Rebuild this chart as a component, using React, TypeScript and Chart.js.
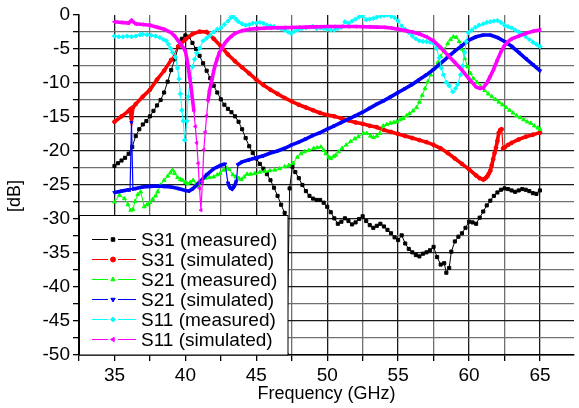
import { useEffect, useRef } from 'react';
import { Chart, registerables } from 'chart.js';
import { drawPoint } from 'chart.js/helpers';

Chart.register(...registerables);

// ---- S31 (measured) ----
const S31_MEAS_F = [
  35.0, 35.25, 35.5, 35.75, 36.0, 36.25, 36.5, 36.75, 37.0, 37.25, 37.5, 37.75, 38.0, 38.25, 38.5, 38.75,
  39.0, 39.25, 39.5, 39.75, 40.0, 40.25, 40.5, 40.75, 41.0, 41.25, 41.5, 41.75, 42.0, 42.25, 42.5, 42.75,
  43.0, 43.25, 43.5, 43.75, 44.0, 44.25, 44.5, 44.75, 45.0, 45.25, 45.5, 45.75, 46.0, 46.25, 46.5, 46.75,
  47.0, 47.15, 47.35, 47.55, 47.75, 48.0, 48.25, 48.5, 48.75, 49.0, 49.25, 49.5, 49.75, 50.0, 50.25, 50.5,
  50.75, 51.0, 51.25, 51.5, 51.75, 52.0, 52.25, 52.5, 52.75, 53.0, 53.25, 53.5, 53.75, 54.0, 54.25, 54.5,
  54.75, 55.0, 55.25, 55.5, 55.75, 56.0, 56.25, 56.5, 56.75, 57.0, 57.25, 57.5, 57.75, 58.0, 58.25, 58.4,
  58.6, 58.75, 59.0, 59.25, 59.5, 59.75, 60.0, 60.25, 60.5, 60.75, 61.0, 61.25, 61.5, 61.75, 62.0, 62.25,
  62.5, 62.75, 63.0, 63.25, 63.5, 63.75, 64.0, 64.25, 64.5, 64.75, 65.0,
];
const S31_MEAS_DB = [
  -22.2, -21.8, -21.4, -21.0, -20.4, -19.4, -17.8, -16.8, -16.1, -15.6, -14.9, -14.1, -13.3, -12.5, -11.4, -9.8,
  -8.1, -6.5, -4.7, -3.5, -3.0, -3.2, -4.1, -5.0, -6.0, -7.1, -8.2, -9.3, -10.4, -11.4, -12.4, -13.2,
  -13.8, -14.3, -14.9, -15.7, -16.8, -18.1, -19.3, -20.3, -21.1, -21.9, -22.6, -23.4, -24.3, -25.4, -26.6, -27.9,
  -29.1, -50.0, -25.5, -22.3, -23.1, -24.0, -25.0, -25.9, -26.6, -27.0, -27.2, -27.2, -27.6, -28.2, -29.0, -29.9,
  -30.7, -30.4, -29.9, -30.3, -30.8, -30.5, -30.0, -29.6, -30.3, -30.9, -31.3, -31.0, -30.7, -31.1, -31.6, -32.1,
  -32.7, -33.1, -32.4, -33.6, -34.4, -34.9, -35.3, -35.5, -35.1, -34.9, -34.6, -34.1, -35.6, -36.7, -36.5, -37.9,
  -37.2, -34.8, -33.3, -32.6, -32.1, -31.3, -30.4, -30.5, -30.7, -29.8, -28.9, -28.0, -27.3, -26.6, -26.1, -25.7,
  -25.5, -25.6, -25.8, -26.0, -25.8, -25.6, -25.7, -25.9, -26.2, -26.3, -25.8,
];

// ---- S31 (simulated) ----
const S31_SIM_F = [
  35.0, 35.5, 36.0, 36.1, 36.2, 36.3, 36.5, 37.0, 37.5, 38.0, 38.5, 39.0, 39.5, 40.0, 40.5, 41.0,
  41.5, 42.0, 42.5, 43.0, 43.5, 44.0, 44.5, 45.0, 45.5, 46.0, 46.5, 47.0, 47.5, 48.0, 48.5, 49.0,
  49.5, 50.0, 50.5, 51.0, 51.5, 52.0, 52.5, 53.0, 53.5, 54.0, 54.5, 55.0, 55.5, 56.0, 56.5, 57.0,
  57.5, 58.0, 58.5, 59.0, 59.5, 60.0, 60.5, 60.75, 61.0, 61.1, 61.2, 61.3, 61.4, 61.5, 61.6, 61.7,
  61.8, 61.9, 62.0, 62.1, 62.2, 62.3, 62.4, 62.5, 62.75, 63.0, 63.5, 64.0, 64.5, 65.0,
];
const S31_SIM_DB = [
  -15.7, -14.9, -14.1, -13.9, -15.2, -13.6, -13.1, -12.0, -11.0, -9.5, -8.2, -6.6, -4.6, -3.6, -2.8, -2.45,
  -2.5, -3.5, -4.6, -5.8, -6.8, -7.7, -8.6, -9.5, -10.3, -11.0, -11.6, -12.2, -12.7, -13.2, -13.6, -14.0,
  -14.4, -14.7, -14.9, -15.2, -15.5, -15.8, -16.0, -16.3, -16.5, -16.9, -17.2, -17.5, -17.8, -18.1, -18.4, -18.7,
  -19.1, -19.6, -20.3, -21.1, -21.9, -22.7, -23.6, -24.0, -24.2, -24.1, -23.9, -23.7, -23.3, -22.9, -22.1, -21.2,
  -20.3, -19.5, -18.5, -17.3, -16.9, -16.8, -19.6, -19.5, -19.1, -18.8, -18.3, -17.9, -17.6, -17.3,
];

// ---- S21 (measured) ----
const S21_MEAS_F = [
  35.0, 35.35, 35.7, 35.95, 36.15, 36.3, 36.45, 36.65, 36.85, 37.1, 37.3, 37.5, 37.7, 37.9, 38.05, 38.25,
  38.5, 38.75, 38.95, 39.1, 39.25, 39.45, 39.65, 39.8, 40.0, 40.15, 40.35, 40.55, 40.75, 40.95, 41.15, 41.4,
  41.7, 42.0, 42.25, 42.45, 42.7, 42.9, 43.1, 43.35, 43.55, 43.75, 43.95, 44.15, 44.35, 44.6, 44.9, 45.25,
  45.6, 45.95, 46.3, 46.65, 47.0, 47.3, 47.6, 47.9, 48.15, 48.4, 48.7, 49.05, 49.3, 49.55, 49.75, 49.9,
  50.1, 50.25, 50.45, 50.6, 50.8, 51.05, 51.35, 51.65, 51.95, 52.2, 52.55, 52.8, 53.05, 53.25, 53.5, 53.72,
  53.95, 54.2, 54.45, 54.7, 54.9, 55.15, 55.35, 55.6, 55.8, 56.05, 56.3, 56.5, 56.7, 56.9, 57.1, 57.3,
  57.55, 57.8, 58.0, 58.25, 58.5, 58.7, 58.9, 59.1, 59.3, 59.5, 59.7, 59.9, 60.1, 60.3, 60.55, 60.8,
  61.1, 61.35, 61.6, 61.85, 62.1, 62.35, 62.6, 62.85, 63.1, 63.35, 63.6, 63.85, 64.1, 64.35, 64.6, 64.85,
  65.0,
];
const S21_MEAS_DB = [
  -27.5, -26.5, -27.0, -27.9, -28.7, -28.6, -27.4, -26.4, -26.0, -28.2, -27.9, -27.6, -27.1, -26.6, -26.0, -25.0,
  -24.3, -23.7, -23.2, -22.8, -23.3, -23.9, -24.2, -24.3, -24.6, -24.8, -24.6, -24.3, -24.9, -25.2, -24.6, -24.0,
  -23.9, -23.8, -23.5, -23.3, -22.8, -22.5, -22.7, -23.5, -23.8, -24.0, -24.2, -23.8, -23.4, -23.4, -23.3, -23.1,
  -23.0, -22.9, -22.8, -22.6, -22.3, -22.1, -21.8, -20.9, -20.4, -20.1, -19.9, -19.6, -19.5, -19.4, -19.9, -20.4,
  -20.9, -21.1, -20.8, -20.6, -20.1, -19.6, -19.1, -18.6, -18.2, -17.9, -17.4, -17.4, -17.8, -18.0, -17.8, -17.4,
  -16.3, -16.1, -15.9, -15.8, -15.7, -15.4, -15.2, -14.8, -14.5, -14.1, -13.6, -12.8, -11.8, -10.8, -9.8, -8.8,
  -7.9, -7.0, -6.1, -5.1, -4.2, -3.6, -3.2, -3.3, -3.9, -5.0, -6.4, -7.6, -8.6, -9.3, -9.9, -10.5,
  -11.1, -11.6, -12.0, -12.4, -12.8, -13.2, -13.6, -14.0, -14.4, -14.8, -15.1, -15.4, -15.7, -15.9, -16.3, -16.6,
  -16.8,
];

// ---- S21 (simulated) ----
const S21_SIM_F = [
  35.0, 35.5, 36.0, 36.1, 36.2, 36.3, 36.5, 37.0, 37.5, 38.0, 38.5, 39.0, 39.5, 40.0, 40.25, 40.5,
  41.0, 41.5, 42.0, 42.5, 42.8, 43.0, 43.15, 43.3, 43.45, 43.6, 43.7, 44.0, 44.5, 45.0, 45.5, 46.0,
  46.5, 47.0, 47.5, 48.0, 48.5, 49.0, 49.5, 50.0, 50.5, 51.0, 51.5, 52.0, 52.5, 53.0, 53.5, 54.0,
  54.5, 55.0, 55.5, 56.0, 56.5, 57.0, 57.5, 58.0, 58.5, 59.0, 59.5, 60.0, 60.5, 61.0, 61.5, 62.0,
  62.5, 63.0, 63.5, 64.0, 64.5, 65.0,
];
const S21_SIM_DB = [
  -26.1, -25.9, -25.7, -25.7, -15.8, -25.6, -25.5, -25.3, -25.2, -25.15, -25.2, -25.3, -25.5, -25.8, -25.9, -25.6,
  -24.6, -23.5, -22.6, -22.1, -21.9, -24.7, -25.4, -25.6, -25.2, -24.4, -22.0, -21.6, -21.3, -21.0, -20.7, -20.3,
  -20.0, -19.6, -19.1, -18.7, -18.2, -17.7, -17.3, -16.8, -16.3, -15.8, -15.3, -14.8, -14.3, -13.7, -13.1, -12.6,
  -12.0, -11.4, -10.8, -10.2, -9.5, -8.8, -8.0, -7.1, -6.2, -5.3, -4.5, -3.7, -3.2, -2.95, -2.95, -3.3,
  -3.9, -4.6, -5.5, -6.4, -7.3, -8.2,
];

// ---- S11 (measured) ----
const S11_MEAS_F = [
  35.0, 35.3, 35.6, 35.9, 36.2, 36.5, 36.8, 37.0, 37.3, 37.6, 37.9, 38.2, 38.45, 38.65, 38.8, 38.95,
  39.1, 39.3, 39.45, 39.55, 39.65, 39.75, 39.85, 39.95, 40.1, 40.2, 40.35, 40.5, 40.65, 40.8, 41.0, 41.25,
  41.5, 41.75, 42.0, 42.25, 42.5, 42.75, 43.0, 43.2, 43.35, 43.55, 43.75, 44.0, 44.25, 44.5, 44.75, 45.0,
  45.25, 45.5, 45.75, 46.0, 46.25, 46.5, 46.75, 47.0, 47.25, 47.45, 47.7, 47.95, 48.2, 48.5, 48.75, 49.0,
  49.25, 49.5, 49.75, 50.0, 50.25, 50.5, 50.75, 51.0, 51.25, 51.5, 51.75, 52.0, 52.25, 52.5, 52.75, 53.0,
  53.25, 53.5, 53.75, 54.0, 54.25, 54.5, 54.75, 55.0, 55.25, 55.5, 55.75, 56.0, 56.25, 56.5, 56.75, 57.0,
  57.25, 57.5, 57.7, 57.9, 58.05, 58.2, 58.4, 58.6, 58.85, 59.05, 59.2, 59.4, 59.55, 59.7, 59.8, 59.95,
  60.2, 60.45, 60.7, 61.0, 61.25, 61.5, 61.75, 62.0, 62.25, 62.5, 62.75, 63.0, 63.25, 63.5, 63.75, 64.0,
  64.25, 64.5, 64.75, 65.0,
];
const S11_MEAS_DB = [
  -3.1, -3.2, -3.2, -3.1, -3.2, -3.1, -2.9, -2.85, -2.9, -3.0, -3.1, -3.3, -3.6, -3.8, -4.3, -4.9,
  -5.5, -6.2, -7.8, -9.4, -11.6, -14.0, -15.6, -18.4, -15.6, -12.0, -9.3, -7.6, -6.5, -5.6, -4.9, -3.8,
  -3.4, -3.0, -2.5, -2.1, -1.9, -1.4, -0.9, -0.4, -0.2, -0.6, -1.0, -1.3, -1.5, -1.4, -1.2, -1.2,
  -1.1, -1.2, -1.5, -1.6, -1.7, -1.9, -2.0, -2.2, -2.5, -2.7, -2.4, -2.2, -2.0, -1.9, -1.8, -1.7,
  -2.0, -1.9, -2.0, -2.1, -2.2, -2.2, -2.0, -1.8, -1.0, -1.2, -0.9, -0.6, -0.3, -0.1, -0.7, -0.6,
  -0.5, -0.3, -0.2, -0.1, 0.0, -0.2, -0.4, -0.9, -1.6, -2.1, -2.6, -3.1, -3.5, -3.8, -3.9, -3.9,
  -4.0, -4.2, -4.9, -6.3, -7.8, -8.8, -9.9, -10.4, -11.3, -10.8, -10.2, -8.8, -7.5, -5.5, -3.9, -2.6,
  -2.2, -1.8, -1.5, -1.3, -1.1, -1.0, -0.9, -0.8, -1.1, -1.5, -1.7, -1.9, -2.2, -2.5, -2.8, -3.2,
  -3.6, -4.0, -4.3, -4.65,
];

// ---- S11 (simulated) ----
const S11_SIM_F = [
  35.0, 35.5, 36.0, 36.2, 36.5, 37.0, 37.5, 38.0, 38.5, 39.0, 39.25, 39.5, 39.75, 40.0, 40.1, 40.2,
  40.3, 40.4, 40.5, 40.6, 40.7, 40.8, 40.9, 41.0, 41.1, 41.2, 41.3, 41.4, 41.5, 41.6, 41.7, 41.8,
  41.9, 42.0, 42.1, 42.25, 42.4, 42.6, 42.8, 43.0, 43.25, 43.5, 44.0, 44.5, 45.0, 45.5, 46.0, 46.5,
  47.0, 47.5, 48.0, 48.5, 49.0, 49.5, 50.0, 50.5, 51.0, 51.5, 52.0, 52.5, 53.0, 53.5, 54.0, 54.5,
  55.0, 55.5, 56.0, 56.5, 57.0, 57.5, 58.0, 58.5, 59.0, 59.5, 60.0, 60.5, 60.75, 61.0, 61.25, 61.5,
  61.75, 62.0, 62.25, 62.5, 62.75, 63.0, 63.5, 64.0, 64.5, 65.0,
];
const S11_SIM_DB = [
  -1.0, -1.1, -1.2, -0.8, -1.3, -1.4, -1.5, -1.8, -2.1, -2.6, -3.1, -3.8, -4.5, -5.3, -6.4, -7.6,
  -9.1, -10.6, -12.4, -14.1, -16.4, -18.8, -21.8, -25.5, -28.7, -24.5, -19.8, -17.2, -14.8, -12.6, -11.2, -10.2,
  -9.3, -8.2, -7.4, -6.4, -5.5, -4.8, -4.1, -3.6, -3.1, -2.7, -2.3, -2.1, -2.0, -1.95, -1.9, -1.88,
  -1.85, -1.83, -1.8, -1.78, -1.75, -1.72, -1.7, -1.7, -1.7, -1.7, -1.7, -1.72, -1.75, -1.78, -1.8, -1.9,
  -2.1, -2.3, -2.5, -2.8, -3.2, -3.8, -4.8, -5.9, -7.0, -8.1, -9.4, -10.6, -10.8, -10.7, -10.0, -9.0,
  -7.9, -6.6, -5.4, -4.5, -3.9, -3.5, -3.1, -2.7, -2.4, -2.2,
];

const SERIES_LABELS = [
  'S31 (measured)',
  'S31 (simulated)',
  'S21 (measured)',
  'S21 (simulated)',
  'S11 (measured)',
  'S11 (simulated)',
];

const X_MIN = 32.5;
const X_MAX = 67.4;
const Y_MIN = -50;
const Y_MAX = 0;
const TICK_STEP = 2.5;

const FONT = "'Liberation Sans', Arial, Helvetica, sans-serif";

const pts = (f: number[], v: number[]) => f.map((x, i) => ({ x, y: v[i] }));
const isMajor = (v: number) => Math.abs(v / 5 - Math.round(v / 5)) < 1e-6;

// simulated traces: thick where points crowd together, thin across steep jumps
const simSegmentWidth = (ctx: any) => {
  const dx = ctx.p1.x - ctx.p0.x;
  const dy = ctx.p1.y - ctx.p0.y;
  return Math.hypot(dx, dy) > 14 ? 1.2 : 3.6;
};

const insetLegend = {
  id: 'insetLegend',
  afterDatasetsDraw(chart: any) {
    const { ctx, chartArea } = chart;
    const left = chartArea.left;
    const bottom = chartArea.bottom;
    const boxW = 209;
    const boxH = 140;
    ctx.save();
    ctx.fillStyle = '#fff';
    ctx.fillRect(left, bottom - boxH, boxW, boxH);
    ctx.strokeStyle = '#000';
    ctx.lineWidth = 1;
    ctx.strokeRect(left + 0.5, bottom - boxH + 0.5, boxW - 0.5, boxH - 0.5);
    ctx.font = `19px ${FONT}`;
    ctx.textBaseline = 'middle';
    ctx.textAlign = 'left';
    chart.data.datasets.forEach((ds: any, i: number) => {
      const y = Math.round(bottom - 116 + 20 * i) + 0.5;
      ctx.strokeStyle = ds.borderColor;
      ctx.lineWidth = 1;
      ctx.beginPath();
      ctx.moveTo(left + 13, y);
      ctx.lineTo(left + 29, y);
      ctx.moveTo(left + 39, y);
      ctx.lineTo(left + 57, y);
      ctx.stroke();
      ctx.fillStyle = ds.borderColor;
      drawPoint(ctx, {
        pointStyle: ds.pointStyle,
        rotation: ds.pointRotation || 0,
        radius: 2.5,
        borderWidth: 1,
      }, left + 34, y);
      ctx.fillStyle = '#000';
      ctx.fillText(ds.label, left + 62, y + 1);
    });
    ctx.restore();
  },
};

const yTitle = {
  id: 'yTitle',
  afterDraw(chart: any) {
    const { ctx, chartArea } = chart;
    ctx.save();
    ctx.translate(15, chartArea.top + 181);
    ctx.rotate(-Math.PI / 2);
    ctx.font = `18px ${FONT}`;
    ctx.fillStyle = '#000';
    ctx.textAlign = 'center';
    ctx.textBaseline = 'middle';
    ctx.fillText('[dB]', 0, 0);
    ctx.restore();
  },
};

export default function App() {
  const canvasRef = useRef<HTMLCanvasElement | null>(null);

  useEffect(() => {
    const canvas = canvasRef.current;
    if (!canvas) return;

    const measured = (label: string, color: string, f: number[], v: number[], style: string, rot = 0) => ({
      label,
      data: pts(f, v),
      borderColor: color,
      backgroundColor: color,
      borderWidth: 1,
      pointStyle: style,
      pointRotation: rot,
      pointRadius: 2.2,
      pointBorderWidth: 1,
      pointBackgroundColor: color,
      pointBorderColor: color,
      tension: 0,
    });
    const simulated = (label: string, color: string, f: number[], v: number[], style: string, rot = 0) => ({
      label,
      data: pts(f, v),
      borderColor: color,
      backgroundColor: color,
      borderWidth: 3.6,
      segment: { borderWidth: simSegmentWidth },
      pointStyle: style,
      pointRotation: rot,
      pointRadius: 1.9,
      pointBorderWidth: 1,
      pointBackgroundColor: color,
      pointBorderColor: color,
      tension: 0,
    });

    const datasets: any[] = [
      measured(SERIES_LABELS[0], '#000000', S31_MEAS_F, S31_MEAS_DB, 'rect'),
      simulated(SERIES_LABELS[1], '#ff0000', S31_SIM_F, S31_SIM_DB, 'circle'),
      measured(SERIES_LABELS[2], '#00ff00', S21_MEAS_F, S21_MEAS_DB, 'triangle'),
      simulated(SERIES_LABELS[3], '#0000ff', S21_SIM_F, S21_SIM_DB, 'triangle', 180),
      measured(SERIES_LABELS[4], '#00ffff', S11_MEAS_F, S11_MEAS_DB, 'rectRot'),
      simulated(SERIES_LABELS[5], '#ff00ff', S11_SIM_F, S11_SIM_DB, 'triangle', 270),
    ].map((d, i) => ({ ...d, order: 5 - i }));

    const gridColor = (ctx: any) => {
      const v = ctx.tick ? ctx.tick.value : 0;
      return isMajor(v) ? '#1a1a1a' : '#707070';
    };

    const chart = new Chart(canvas, {
      type: 'line',
      data: { datasets },
      plugins: [insetLegend, yTitle],
      options: {
        animation: false,
        responsive: false,
        devicePixelRatio: 1,
        layout: { padding: { top: 15, right: 0, left: 0, bottom: 0 } },
        plugins: { legend: { display: false }, tooltip: { enabled: false } },
        scales: {
          x: {
            type: 'linear',
            min: X_MIN,
            max: X_MAX,
            afterFit: (s: any) => { s.height = 53; },
            ticks: {
              stepSize: TICK_STEP,
              includeBounds: false,
              autoSkip: false,
              maxRotation: 0,
              padding: 3,
              color: '#000',
              font: { family: FONT, size: 19 },
              callback: (v: any) => (isMajor(Number(v)) ? String(v) : ''),
            },
            grid: { color: gridColor, lineWidth: 1.3, tickLength: 6, tickColor: '#000' },
            border: { color: '#000', width: 1.5 },
            title: {
              display: true,
              text: 'Frequency (GHz)',
              color: '#000',
              font: { family: FONT, size: 18 },
              padding: { top: 0, bottom: 3 },
            },
          },
          y: {
            type: 'linear',
            min: Y_MIN,
            max: Y_MAX,
            afterFit: (s: any) => { s.width = 79; },
            ticks: {
              stepSize: TICK_STEP,
              autoSkip: false,
              padding: 3,
              color: '#000',
              font: { family: FONT, size: 19 },
              callback: (v: any) => (isMajor(Number(v)) ? String(v) : ''),
            },
            grid: {
              color: (ctx: any) => (ctx.tick && ctx.tick.value === 0 ? 'rgba(0,0,0,0)' : gridColor(ctx)),
              lineWidth: 1.3,
              tickLength: 6,
              tickColor: '#000',
            },
            border: { color: '#000', width: 1.5 },
          },
        },
      },
    });

    return () => chart.destroy();
  }, []);

  return (
    <div style={{ position: 'absolute', left: 0, top: 0, width: 579, height: 408, background: '#fff' }}>
      <canvas ref={canvasRef} width={579} height={408} style={{ width: 579, height: 408, display: 'block' }} />
    </div>
  );
}
